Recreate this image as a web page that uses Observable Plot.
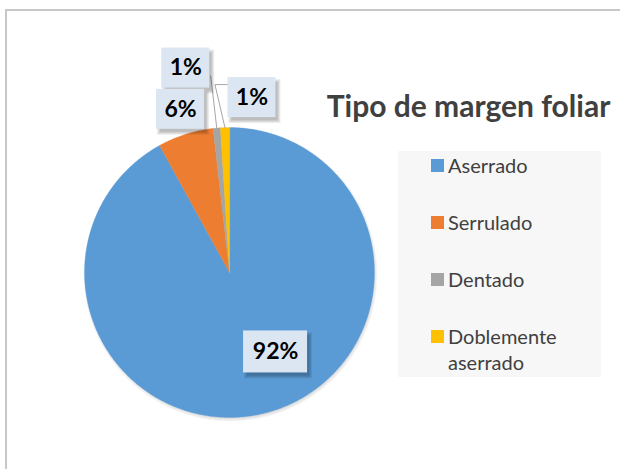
<!DOCTYPE html>
<html><head><meta charset="utf-8">
<script src="https://cdn.jsdelivr.net/npm/d3@7"></script>
<script src="https://cdn.jsdelivr.net/npm/@observablehq/plot@0.6"></script>
<style>
body{margin:0;background:#fff;}
#wrap{position:relative;width:620px;height:469px;overflow:hidden;font-family:Lato,"Open Sans",sans-serif;}
#border{position:absolute;left:5px;top:9px;width:700px;height:600px;border-top:2px solid #c8c8c8;border-left:2px solid #c8c8c8;pointer-events:none;}
#chart{position:absolute;left:0;top:0;}
#legend{position:absolute;left:398px;top:151px;width:203px;height:226px;background:#f7f7f7;}
.item{position:absolute;left:33px;display:flex;align-items:flex-start;color:#404040;font-size:20px;line-height:26px;}
.sw{width:13px;height:13px;margin-right:4px;margin-top:7px;flex:none;}
</style></head>
<body>
<div id="wrap"><div id="chart"></div><div id="legend"></div><div id="border"></div></div>
<script>
const categories = ["Aserrado", "Serrulado", "Dentado", "Doblemente aserrado"];
const legendLines = [["Aserrado"], ["Serrulado"], ["Dentado"], ["Doblemente", "aserrado"]];
const values = [92.0, 6.2, 0.8, 1.0];
const colors = ["#5b9bd5", "#ed7d31", "#a5a5a5", "#ffc000"];
const title = "Tipo de margen foliar";

// layout (pixels)
const W = 620, H = 469, cx = 229, cy = 272, R = 145;
const labelNudge = [[10, -61], [-5, -25], [-31, -60], [27, -30]];
const boxHalf = [[32, 21], [24, 20], [24, 20], [24, 20]];
const legendTop = [1, 58, 115, 172];

const total = d3.sum(values);
const arcs = d3.pie().sort(null).value(d => d)(values);

const slicePts = [];
arcs.forEach((a, i) => {
  const n = Math.max(2, Math.ceil((a.endAngle - a.startAngle) / 0.01));
  slicePts.push({k: categories[i], x: 0, y: 0});
  for (let j = 0; j <= n; j++) {
    const t = a.startAngle + (a.endAngle - a.startAngle) * j / n;
    slicePts.push({k: categories[i], x: Math.sin(t), y: Math.cos(t)});
  }
});

const labels = arcs.map((a, i) => {
  const m = (a.startAngle + a.endAngle) / 2;
  const ex = Math.sin(m), ey = Math.cos(m);
  return {i, ex, ey, text: Math.round(values[i] / total * 100) + "%",
    x: ex + labelNudge[i][0] / R, y: ey - labelNudge[i][1] / R};
});

const px = (l, dx, dy) => ({x: l.x + dx / R, y: l.y - dy / R});
const leaders = [];
{
  const g = labels[2];
  leaders.push({k: "g", x: g.ex, y: g.ey}, {k: "g", ...px(g, 25, 8)});
  const y = labels[3];
  leaders.push({k: "y", x: y.ex, y: y.ey}, {k: "y", ...px(y, -37, -13)}, {k: "y", ...px(y, -24, -13)});
}

const font = "Lato, 'Open Sans', sans-serif";
const rectFor = (idx, fill, dx, dy, grow, opacity) => Plot.rect(labels.filter(d => idx.includes(d.i)), {
  x1: "x", x2: "x", y1: "y", y2: "y",
  insetLeft: -boxHalf[idx[0]][0] - grow, insetRight: -boxHalf[idx[0]][0] - grow,
  insetTop: -boxHalf[idx[0]][1] - grow, insetBottom: -boxHalf[idx[0]][1] - grow,
  fill, fillOpacity: opacity, dx, dy
});

// soft shadow layers (stacked, growing, faint)
const shadowSteps = [0, 1, 2, 3];
const pieShadow = shadowSteps.map(s => Plot.dot([{x: 0, y: 0}], {x: "x", y: "y", r: R + s - 1, fill: "#000", fillOpacity: 0.035, stroke: null, dx: 1, dy: 2}));
const boxShadow = shadowSteps.flatMap(s => [rectFor([0], "#000", 3, 4, s - 1, 0.07), rectFor([1, 2, 3], "#000", 3, 4, s - 1, 0.07)]);

const chart = Plot.plot({
  width: W, height: H, margin: 0,
  style: {background: "transparent", fontFamily: font},
  x: {domain: [-1, 1], range: [cx - R, cx + R], axis: null},
  y: {domain: [-1, 1], range: [cy + R, cy - R], axis: null},
  color: {domain: categories, range: colors},
  marks: [
    ...pieShadow,
    Plot.line(slicePts, {x: "x", y: "y", z: "k", fill: "k", stroke: "k", strokeWidth: 0.3, curve: "linear-closed"}),
    Plot.line(leaders, {x: "x", y: "y", z: "k", stroke: "#a6a6a6", strokeWidth: 1}),
    ...boxShadow,
    rectFor([0], "#dce6f2", 0, 0, 0, 1),
    rectFor([1, 2, 3], "#dce6f2", 0, 0, 0, 1),
    Plot.text(labels, {x: "x", y: "y", text: "text", fontSize: 23, fontWeight: "bold", fill: "#000", fontFamily: font}),
    Plot.text([title], {frameAnchor: "top-left", dx: 468, dy: 107, text: d => d, textAnchor: "middle", lineAnchor: "middle", fontSize: 30, fontWeight: "bold", fill: "#404040", fontFamily: font})
  ]
});
document.getElementById("chart").appendChild(chart);

const legend = d3.select("#legend");
categories.forEach((c, i) => {
  const it = legend.append("div").attr("class", "item").style("top", legendTop[i] + "px");
  it.append("div").attr("class", "sw").style("background", colors[i]);
  it.append("div").html(legendLines[i].join("<br>"));
});
</script>
</body></html>
